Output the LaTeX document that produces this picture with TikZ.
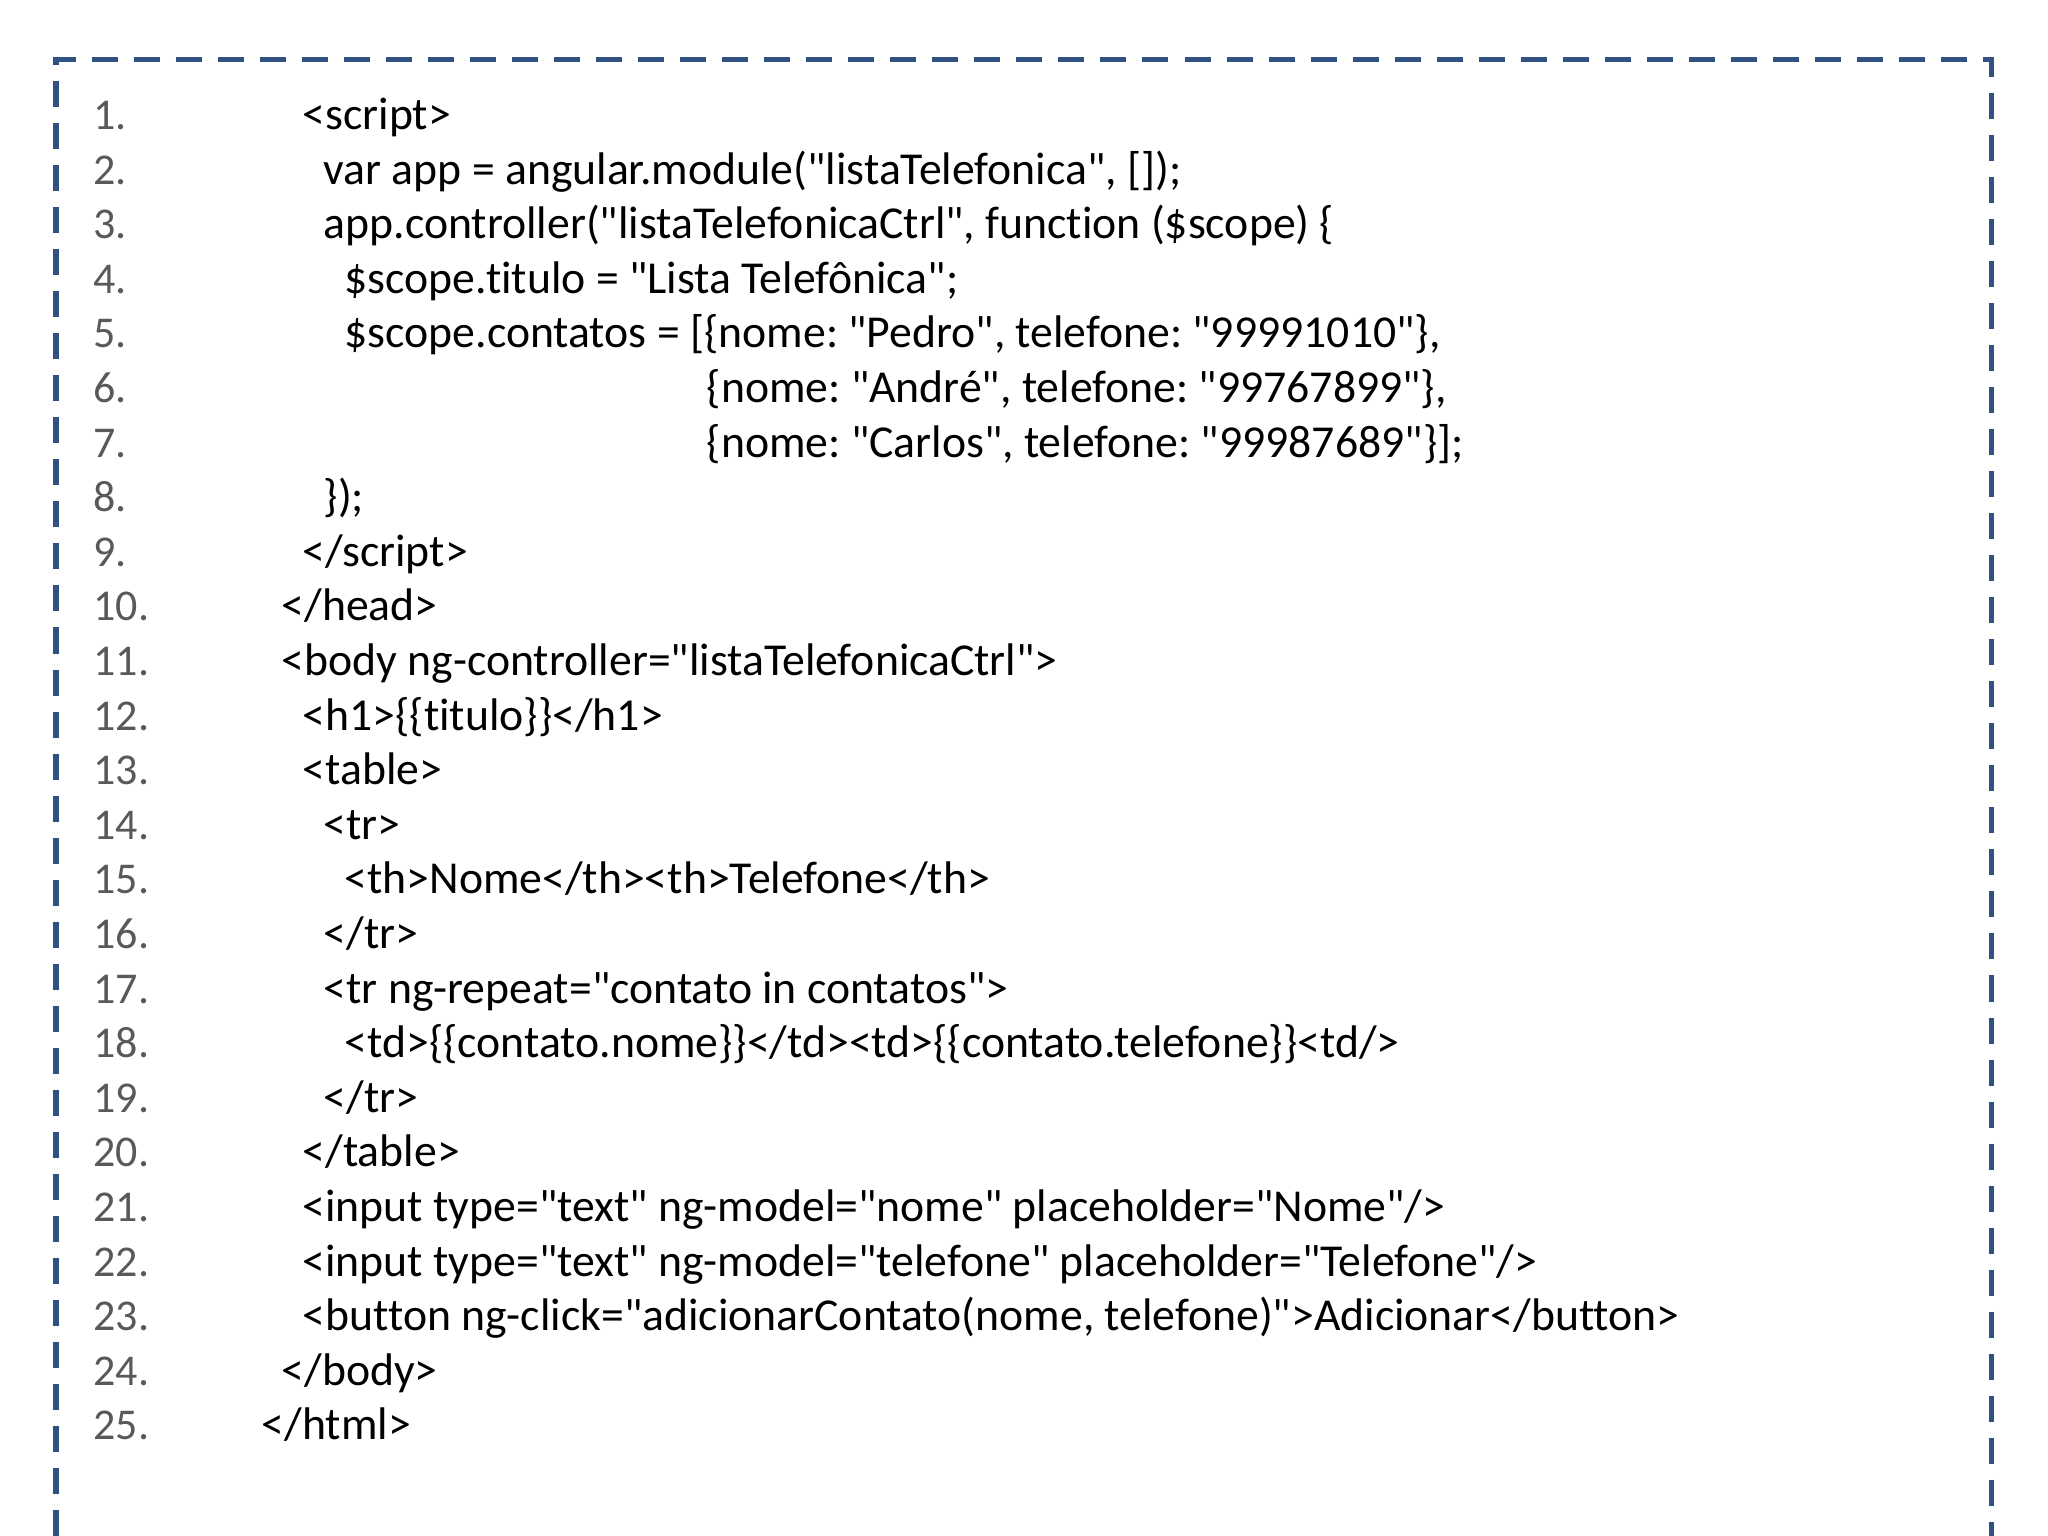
\documentclass[tikz,border=0pt]{standalone}
\usepackage{fontspec}
\setmainfont{Carlito}[Ligatures={TeXOff,CommonOff}]
\definecolor{boxblue}{HTML}{2F5283}
\definecolor{numgrey}{HTML}{595959}
\begin{document}
\frenchspacing
\begin{tikzpicture}[x=0.01cm,y=-0.01cm,
  code/.style={anchor=west,inner sep=0pt,font=\fontsize{13pt}{15pt}\selectfont,text height=9pt,text depth=3pt},
  num/.style={code,font=\fontsize{12.5pt}{15pt}\selectfont,text=numgrey},
  frame/.style={draw=boxblue,line width=0.05cm,dash pattern=on 0.26cm off 0.16cm}]
\useasboundingbox (0,0) rectangle (2048,1536);
\coordinate (bl) at (56,1536);
\coordinate (tl) at (56,59);
\coordinate (tr) at (1991,59);
\coordinate (br) at (1991,1536);
\draw[frame] (bl) -- (tl) -- (tr) -- (br);
\def\dy{54.6}
\newcommand\cl[3]{%
  \node[num] (n#1) at (93,{119+(#1-1)*\dy}) {#1.};
  \node[code] (l#1) at (#2,{119+(#1-1)*\dy}) {#3};}
\cl{1}{302}{<script>}
\cl{2}{323}{var app = angular.module("listaTelefonica", []);}
\cl{3}{323}{app.controller("listaTelefonicaCtrl", function (\$scope) \{}
\cl{4}{344}{\$scope.titulo = "Lista Telefônica";}
\cl{5}{344}{\$scope.contatos = [\{nome: "Pedro", telefone: "99991010"\},}
\cl{6}{706}{\{nome: "André", telefone: "99767899"\},}
\cl{7}{706}{\{nome: "Carlos", telefone: "99987689"\}];}
\cl{8}{323}{\});}
\cl{9}{302}{</script>}
\cl{10}{281}{</head>}
\cl{11}{281}{<body ng-controller="listaTelefonicaCtrl">}
\cl{12}{302}{<h1>\{\{titulo\}\}</h1>}
\cl{13}{302}{<table>}
\cl{14}{323}{<tr>}
\cl{15}{344}{<th>Nome</th><th>Telefone</th>}
\cl{16}{323}{</tr>}
\cl{17}{323}{<tr ng-repeat="contato in contatos">}
\cl{18}{344}{<td>\{\{contato.nome\}\}</td><td>\{\{contato.telefone\}\}<td/>}
\cl{19}{323}{</tr>}
\cl{20}{302}{</table>}
\cl{21}{302}{<input type="text" ng-model="nome" placeholder="Nome"/>}
\cl{22}{302}{<input type="text" ng-model="telefone" placeholder="Telefone"/>}
\cl{23}{302}{<button ng-click="adicionarContato(nome, telefone)">Adicionar</button>}
\cl{24}{281}{</body>}
\cl{25}{261}{</html>}
\end{tikzpicture}
\end{document}
